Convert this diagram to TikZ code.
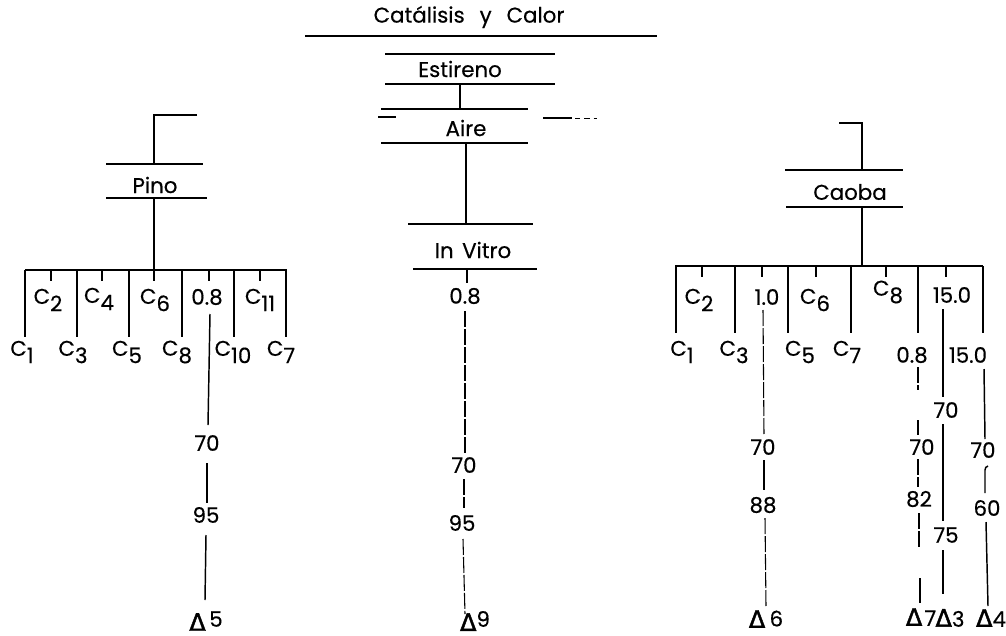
\documentclass[tikz,border=0pt]{standalone}
\usepackage{fontspec}
\setmainfont{Poppins}[FakeBold=0.4]
\newfontfamily\grk{DejaVu Sans}[FakeBold=1.8]
\newcommand\sbs[1]{\raisebox{-5.5pt}{#1}}
\newcommand\dlt{{\grk\fontsize{18}{19}\selectfont Δ}}
\begin{document}
\begin{tikzpicture}[x=0.75pt,y=-0.75pt,
  ln/.style={line width=1.1pt},
  fa/.style={line width=0.8pt, dash pattern=on 12pt off 1.5pt},
  lbl/.style={font=\fontsize{16}{18}\selectfont, inner sep=1pt}]
\useasboundingbox (0,0) rectangle (1006,635);

% ---------- centre column ----------
\node[lbl] (cat) at (469,17) {Catálisis\hspace{0.7em}y\hspace{0.7em}Calor};
\draw[ln] (305,36) -- (657,36);

\node[lbl] (est) at (460,69) {Estireno};
\draw[ln] (385,54) -- (555,54);
\draw[ln] (385,84) -- (555,84);
\coordinate (estb) at (460,84);
\coordinate (airt) at (460,109);
\draw[ln] (estb) -- (airt);

\node[lbl] (aire) at (466,128) {Aire};
\draw[ln] (381,109) -- (528,109);
\draw[ln] (381,143) -- (528,143);
\draw[ln] (378,117) -- (396,117);
\draw[ln] (543,118) -- (572,118);
\draw[line width=0.7pt, dash pattern=on 4pt off 3pt] (575,118) -- (597,118);
\coordinate (aireb) at (466,143);
\coordinate (vitt) at (466,224);
\draw[ln] (aireb) -- (vitt);

\node[lbl] (vit) at (473,250) {In\hspace{0.4em}Vitro};
\draw[ln] (408,224) -- (533,224);
\draw[ln] (413,269) -- (537,269);

\node[lbl] (m08) at (465,296) {0.8};
\node[lbl] (m70) at (464,465) {70};
\node[lbl] (m95) at (462,523) {95};
\node[lbl] (m9)  at (475,621) {\dlt\raisebox{3pt}{9}};
\draw[ln] (467,269) -- (467,283);
\draw[fa] (465,311) -- (465,453);
\draw[fa] (464,479) -- (464,508);
\draw[fa] (463,539) -- (465,614);

% ---------- Pino tree ----------
\draw[ln] (197,115) -- (154,115) -- (154,164);
\node[lbl] (pino) at (155,185) {Pino};
\draw[ln] (106,164) -- (203,164);
\draw[ln] (106,198) -- (207,198);
\draw[ln] (154,198) -- (154,270);
\draw[ln] (25,270) -- (287,270);
\foreach \x in {25,77,129,182,234,286} \draw[ln] (\x,270) -- (\x,337);
\foreach \x in {51,102,154,209,260} \draw[ln] (\x,270) -- (\x,281);

\node[lbl] (pc2)  at (48,300)  {C\sbs{2}};
\node[lbl] (pc4)  at (99,299)  {C\sbs{4}};
\node[lbl] (pc6)  at (155,300) {C\sbs{6}};
\node[lbl] (p08)  at (207,297) {0.8};
\node[lbl] (pc11) at (260,300) {C\sbs{11}};
\node[lbl] (pc1)  at (22,352)  {C\sbs{1}};
\node[lbl] (pc3)  at (73,352)  {C\sbs{3}};
\node[lbl] (pc5)  at (127,352) {C\sbs{5}};
\node[lbl] (pc8)  at (177,352) {C\sbs{8}};
\node[lbl] (pc10) at (233,352) {C\sbs{10}};
\node[lbl] (pc7)  at (281,352) {C\sbs{7}};

\node[lbl] (p70) at (207,443) {70};
\node[lbl] (p95) at (206,515) {95};
\node[lbl] (p5)  at (206,621) {\dlt\,\raisebox{3pt}{5}};
\draw[ln] (210,314) -- (208,425);
\draw[ln] (207,463) -- (207,503);
\draw[ln] (206,535) -- (205,600);

% ---------- Caoba tree ----------
\draw[ln] (839,123) -- (862,123) -- (862,170);
\node[lbl] (caoba) at (850,192) {Caoba};
\draw[ln] (785,170) -- (903,170);
\draw[ln] (786,207) -- (903,207);
\draw[ln] (862,207) -- (862,266);
\draw[ln] (675,266) -- (983,266);
\foreach \x in {676,735,788,851,918,983} \draw[ln] (\x,266) -- (\x,333);
\foreach \x in {702,762,816,886,946} \draw[ln] (\x,266) -- (\x,277);

\node[lbl] (cc2)  at (699,300) {C\sbs{2}};
\node[lbl] (c10)  at (767,297) {1.0};
\node[lbl] (cc6)  at (815,300) {C\sbs{6}};
\node[lbl] (cc8)  at (888,292) {C\sbs{8}};
\node[lbl] (c15a) at (952,295) {15.0};
\node[lbl] (cc1)  at (682,352) {C\sbs{1}};
\node[lbl] (cc3)  at (734,352) {C\sbs{3}};
\node[lbl] (cc5)  at (800,352) {C\sbs{5}};
\node[lbl] (cc7)  at (847,352) {C\sbs{7}};
\node[lbl] (c08)  at (912,355) {0.8};
\node[lbl] (c15b) at (968,355) {15.0};

% chain from 1.0
\node[lbl] (a70) at (763,447) {70};
\node[lbl] (a88) at (763,505) {88};
\node[lbl] (a6)  at (766,619) {\dlt\hspace{0.2em}\raisebox{1pt}{6}};
\draw[fa] (763,310) -- (764,435);
\draw[ln] (764,460) -- (764,490);
\draw[fa] (765,518) -- (766,606);

% chain from 0.8
\node[lbl] (b70) at (922,447) {70};
\node[lbl] (b82) at (919,499) {82};
\node[lbl] (b7)  at (921,617) {\dlt\hspace{0.1em}7};
\draw[fa] (918,367) -- (918,390);
\draw[fa] (918,420) -- (918,435);
\draw[fa] (918,459) -- (918,487);
\draw[fa] (919,513) -- (919,547);
\draw[ln] (920,578) -- (920,603);

% chain from upper 15.0
\node[lbl] (d70) at (946,410) {70};
\node[lbl] (d75) at (946,535) {75};
\node[lbl] (d3)  at (950,618) {\dlt3};
\draw[ln] (943,309) -- (943,397);
\draw[ln] (943,424) -- (943,521);
\draw[line width=1.6pt] (943,550) -- (943,594);

% chain from lower 15.0
\node[lbl] (e70) at (983,450) {70};
\node[lbl] (e60) at (987,508) {60};
\node[lbl] (e4)  at (991,618) {\dlt4};
\draw[ln] (984,369) -- (985,439);
\draw[ln] (985,493) -- (985,470) to[bend left=40] (988,466);
\draw[ln] (986,522) -- (988,606);
\end{tikzpicture}
\end{document}
